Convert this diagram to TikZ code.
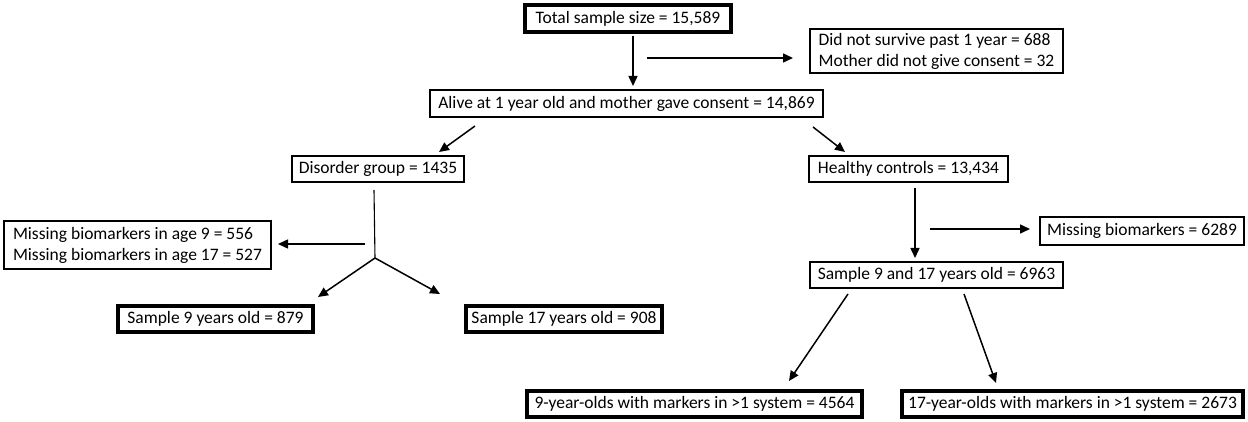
\documentclass[tikz,border=0pt]{standalone}
\usepackage{fontspec}
\setmainfont{Carlito}
\usetikzlibrary{arrows.meta,calc}
\begin{document}
\begin{tikzpicture}[x=1pt,y=-1pt,
  box/.style={draw,line width=1.8pt,inner sep=0pt,align=center,
    font=\fontsize{17.5}{21}\selectfont},
  thickbox/.style={box,line width=3.6pt},
  arr/.style={line width=1.5pt,-{Triangle[length=10pt,width=9pt]}},
  plain/.style={line width=1.1pt}
]
\useasboundingbox (0,0) rectangle (1248,422);
% nodes
\node[thickbox,minimum width=206.4,minimum height=27.4] (total) at (628,18.5) {Total sample size = 15,589};
\node[box,align=left,minimum width=253.2,minimum height=44.2] (died) at (936.5,51) {Did not survive past 1 year = 688\\Mother did not give consent = 32};
\node[box,minimum width=393.2,minimum height=27.2] (alive) at (626.5,103.5) {Alive at 1 year old and mother gave consent = 14,869};
\node[box,minimum width=172.2,minimum height=26.2] (disorder) at (378,169) {Disorder group = 1435};
\node[box,minimum width=199.2,minimum height=26.2] (healthy) at (908.5,169) {Healthy controls = 13,434};
\node[box,align=left,minimum width=267.2,minimum height=48.2] (missL) at (137.5,245) {Missing biomarkers in age 9 = 556\\Missing biomarkers in age 17 = 527};
\node[thickbox,minimum width=195.4,minimum height=26.4] (s9) at (215.5,319) {Sample 9 years old = 879};
\node[thickbox,minimum width=196.4,minimum height=26.4] (s17) at (564,319) {Sample 17 years old = 908};
\node[box,minimum width=204.2,minimum height=28.2] (missR) at (1142,231) {Missing biomarkers = 6289};
\node[box,minimum width=253.2,minimum height=26.2] (s917) at (936.5,275) {Sample 9 and 17 years old = 6963};
\node[thickbox,minimum width=335.4,minimum height=26.4] (y9) at (694.5,404) {9-year-olds with markers in >1 system = 4564};
\node[thickbox,minimum width=341.4,minimum height=26.4] (y17) at (1072.5,404) {17-year-olds with markers in >1 system = 2673};
% free ends
\coordinate (sideA) at (647,58);
\coordinate (fork) at (375,258);
\coordinate (sideB) at (365,244);
\coordinate (sideC) at (930,229);
% connectors
\draw[arr] ($(total.south)+(5,2)$) -- ($(alive.north)+(6.5,-3)$);
\draw[arr] (sideA) -- ($(died.west)+(-16,7)$);
\draw[arr] ($(alive.south west)+(46,8)$) -- ($(disorder.north east)+(-26,-3)$);
\draw[arr] ($(alive.south east)+(-11,9)$) -- ($(healthy.north west)+(37,-3)$);
\draw[plain] ($(disorder.south)+(-4,7)$) -- (fork);
\draw[arr] (sideB) -- ($(missL.east)+(6,-1)$);
\draw[arr] (fork) -- ($(s9.north east)+(3,-7)$);
\draw[arr] (fork) -- ($(s17.north west)+(-24,-10)$);
\draw[arr] ($(healthy.south)+(6.5,5)$) -- ($(s917.north)+(-21.5,-3)$);
\draw[arr] (sideC) -- ($(missR.west)+(-9,-2)$);
\draw[arr] ($(s917.south west)+(39,5)$) -- ($(y9.north east)+(-75,-8)$);
\draw[arr] ($(s917.south)+(27.5,5)$) -- ($(y17.north)+(-76.5,-6)$);
\end{tikzpicture}
\end{document}
